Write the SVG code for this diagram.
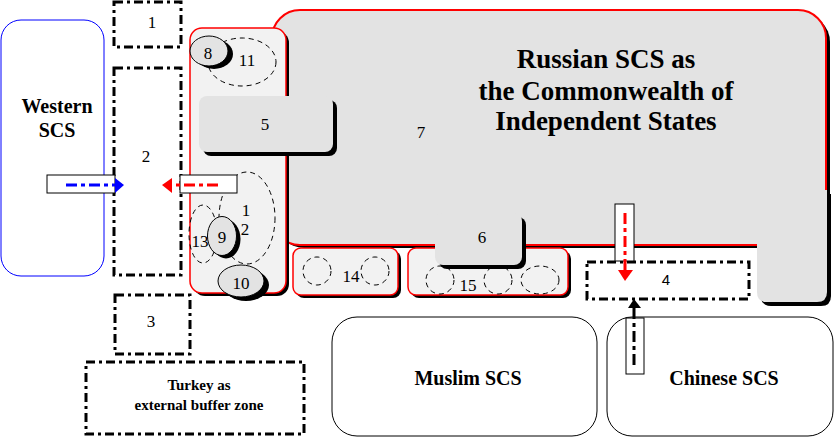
<svg xmlns="http://www.w3.org/2000/svg" width="834" height="437" viewBox="0 0 834 437">
<style>
.sh{fill:#000;stroke:none}
.ru{fill:#e3e3e3;stroke:#f00;stroke-width:2}
.lt{fill:#f2f2f2;stroke:#f00;stroke-width:1.5}
.gr{fill:#e3e3e3;stroke:none}
.el{fill:#e3e3e3;stroke:#000;stroke-width:1}
.dsh{fill:none;stroke:#000;stroke-width:1;stroke-dasharray:5 4}
.zone{fill:#fff;stroke:#000;stroke-width:3;stroke-dasharray:9 4 3 4}
.scs{fill:#fff;stroke:#000;stroke-width:1}
.box{fill:#fff;stroke:#000;stroke-width:1}
.n{font-family:"Liberation Serif",serif;font-size:17px;text-anchor:middle;fill:#000}
.t{font-family:"Liberation Serif",serif;font-weight:bold;text-anchor:middle;fill:#000}
.s{font-family:"Liberation Sans",sans-serif;font-size:15px;text-anchor:middle;fill:#000}
</style>

<g id="western">
<rect x="1" y="20" width="103" height="256" rx="20" fill="#fff" stroke="#00f" stroke-width="1"/>
<text class="t" x="57" y="113" font-size="20">Western</text>
<text class="t" x="57" y="137" font-size="20">SCS</text>
</g>

<g id="zone1"><rect class="zone" x="114" y="2" width="67" height="45"/><text class="n" x="152" y="28" font-size="16">1</text></g>
<g id="zone2"><rect class="zone" x="114" y="68" width="67" height="207"/><text class="n" x="146" y="162" font-size="16">2</text></g>
<g id="zone3"><rect class="zone" x="115" y="295" width="75" height="59"/><text class="n" x="151" y="327" font-size="16">3</text></g>
<g id="turkey">
<rect class="zone" x="86" y="362" width="218" height="72"/>
<text class="t" x="199" y="390" font-size="15">Turkey as</text>
<text class="t" x="199" y="410" font-size="15">external buffer zone</text>
</g>

<g id="russia">
<rect class="sh" x="276" y="14" width="554" height="234" rx="28"/>
<rect class="ru" x="272" y="10" width="554" height="235" rx="28"/>
<path class="sh" d="M761,194 H831 V296 Q831,306 821,306 H771 Q761,306 761,296 Z"/>
<path class="gr" d="M757,190 H827 V292 Q827,302 817,302 H767 Q757,302 757,292 Z"/>
<text class="n" x="421" y="138" font-size="15">7</text>
<text class="t" x="606" y="68" font-size="27">Russian SCS as</text>
<text class="t" x="606" y="100" font-size="27">the Commonwealth of</text>
<text class="t" x="606" y="130" font-size="27">Independent States</text>
</g>

<g id="column">
<rect class="sh" x="193" y="31" width="96" height="265" rx="12"/>
<rect class="lt" x="190" y="28" width="96" height="265" rx="12"/>
</g>

<g id="n11"><ellipse class="dsh" cx="242" cy="62" rx="34" ry="24"/><text class="n" x="247" y="66">11</text></g>
<g id="n8">
<ellipse class="sh" cx="214" cy="54" rx="19" ry="15"/>
<ellipse class="el" cx="209" cy="51" rx="19" ry="15"/>
<text class="n" x="208" y="59" font-size="18">8</text>
</g>

<g id="n5">
<rect class="sh" x="203" y="100" width="134" height="56" rx="8"/>
<rect class="gr" x="199" y="96" width="134" height="56" rx="8"/>
<text class="n" x="265" y="130" font-size="16">5</text>
</g>

<g id="n12"><ellipse class="dsh" cx="247" cy="218" rx="28" ry="46"/><text class="n" x="246" y="216">1</text><text class="n" x="245" y="235">2</text></g>
<g id="n13"><ellipse class="dsh" cx="203" cy="234" rx="14" ry="29"/><text class="n" x="200" y="247">13</text></g>
<g id="n9">
<ellipse class="sh" cx="226" cy="239" rx="14.5" ry="19.5"/>
<ellipse class="el" cx="222" cy="236" rx="14.5" ry="19.5"/>
<text class="n" x="222" y="243">9</text>
</g>
<g id="n10">
<ellipse class="sh" cx="246" cy="285" rx="23" ry="16"/>
<ellipse class="el" cx="241" cy="281" rx="23" ry="16"/>
<text class="n" x="241" y="289" font-size="18">10</text>
</g>

<g id="n14">
<rect class="sh" x="296" y="251" width="105" height="47" rx="8"/>
<rect class="lt" x="293" y="248" width="105" height="47" rx="8"/>
<circle class="dsh" cx="317" cy="271" r="14"/>
<circle class="dsh" cx="375" cy="271" r="14"/>
<text class="n" x="351" y="282">14</text>
</g>
<g id="n15">
<rect class="sh" x="411" y="251" width="160" height="47" rx="8"/>
<rect class="lt" x="408" y="248" width="160" height="47" rx="8"/>
<circle class="dsh" cx="440" cy="280" r="14"/>
<circle class="dsh" cx="498" cy="280" r="14"/>
<ellipse class="dsh" cx="540" cy="280" rx="19" ry="14"/>
<text class="n" x="468" y="291">15</text>
</g>
<g id="n6">
<rect class="sh" x="439" y="217" width="87" height="52" rx="8"/>
<rect class="gr" x="435" y="213" width="87" height="52" rx="8"/>
<text class="n" x="482" y="243">6</text>
</g>

<g id="zone4"><rect class="zone" x="587" y="262" width="162" height="37"/><text class="s" x="666" y="285">4</text></g>

<g id="muslim">
<rect class="scs" x="332" y="317" width="265" height="119" rx="25"/>
<text class="t" x="468" y="385" font-size="20">Muslim SCS</text>
</g>
<g id="chinese">
<rect class="scs" x="607" y="317" width="226" height="119" rx="25"/>
<text class="t" x="724" y="385" font-size="20">Chinese SCS</text>
</g>

<g id="connectors">
<rect class="box" x="47" y="175" width="68" height="18"/>
<line x1="66" y1="185" x2="115" y2="185" stroke="#00f" stroke-width="3" stroke-dasharray="11 4 4 4"/>
<polygon points="115,178 124,185 115,193" fill="#00f"/>
<rect class="box" x="180" y="175" width="57" height="18"/>
<line x1="218" y1="185" x2="172" y2="185" stroke="#f00" stroke-width="3" stroke-dasharray="11 4 4 4"/>
<polygon points="172,178 162,185 172,193" fill="#f00"/>
<rect class="box" x="615" y="204" width="19" height="57" stroke="#f00"/>
<line x1="625" y1="213" x2="625" y2="270" stroke="#f00" stroke-width="3" stroke-dasharray="11 4 4 4"/>
<polygon points="618,270 633,270 625,281" fill="#f00"/>
<rect class="box" x="626" y="318" width="18" height="56"/>
<line x1="634" y1="365" x2="634" y2="307" stroke="#000" stroke-width="3" stroke-dasharray="11 4 4 4"/>
<polygon points="628,308 641,308 634,299" fill="#000"/>
</g>
</svg>
